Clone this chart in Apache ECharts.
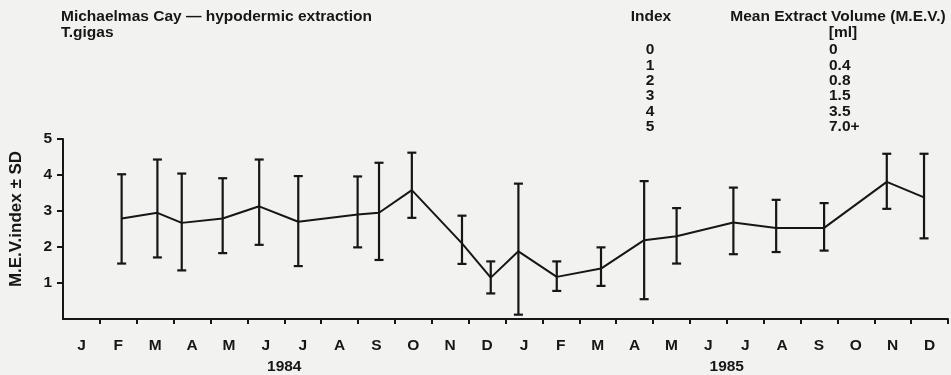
<!DOCTYPE html>
<html>
<head>
<meta charset="utf-8">
<script src="https://cdn.jsdelivr.net/npm/echarts@6/dist/echarts.min.js"></script>
<style>
html,body{margin:0;padding:0;background:#f2f2f1;}
#chart{width:951px;height:375px;}
</style>
</head>
<body>
<div id="chart"></div>
<script>
// ---- data ----
const monthLetters = ['J','F','M','A','M','J','J','A','S','O','N','D'];
const years = ['1984','1985'];
// sampling time in months since 1 Jan 1984
const sampleMonth = [1.59, 2.56, 3.22, 4.33, 5.32, 6.38, 7.99, 8.57, 9.46, 10.82, 11.60,
                     12.35, 13.39, 14.59, 15.76, 16.64, 18.18, 19.34, 20.64, 22.34, 23.35];
const mevIndex   = [2.79, 2.95, 2.67, 2.79, 3.13, 2.70, 2.90, 2.95, 3.58, 2.10, 1.15,
                     1.88, 1.17, 1.40, 2.19, 2.30, 2.68, 2.53, 2.53, 3.81, 3.38];
const sdLow      = [1.54, 1.71, 1.35, 1.83, 2.06, 1.47, 1.99, 1.64, 2.81, 1.53, 0.71,
                     0.12, 0.78, 0.92, 0.55, 1.54, 1.80, 1.86, 1.90, 3.06, 2.24];
const sdHigh     = [4.02, 4.43, 4.04, 3.91, 4.43, 3.97, 3.96, 4.34, 4.62, 2.87, 1.60,
                     3.76, 1.60, 1.99, 3.83, 3.08, 3.65, 3.31, 3.22, 4.59, 4.59];
const yTickValues = [1, 2, 3, 4, 5];
const legendIndex = ['0','1','2','3','4','5'];
const legendMEV   = ['0','0.4','0.8','1.5','3.5','7.0+'];
const titleLines  = ['Michaelmas Cay \u2014 hypodermic extraction', 'T.gigas'];

// ---- build ----
const INK = '#161616';
const FONT = '"Liberation Sans", Arial, Helvetica, sans-serif';
const nMonths = monthLetters.length * years.length;
const labelVals = [], tickVals = [];
for (let i = 0; i < nMonths; i++) { labelVals.push(i + 0.5); tickVals.push(i + 1); }

const txt = (text, x, y, align, extra) => Object.assign({
  type: 'text', x: x, y: y,
  style: { text: text, fill: INK, font: 'bold 15.5px ' + FONT, textAlign: align || 'left', textVerticalAlign: 'middle' }
}, extra || {});

const graphics = [];
graphics.push(txt(titleLines[0], 61, 17));
graphics.push(txt(titleLines[1], 61, 33));
graphics.push(txt('Index', 651, 17, 'center'));
graphics.push(txt('Mean Extract Volume (M.E.V.)', 838, 17, 'center'));
graphics.push(txt('[ml]', 843, 33, 'center'));
legendIndex.forEach((v, i) => {
  graphics.push(txt(v, 650, 50 + i * 15.4, 'center'));
  graphics.push(txt(legendMEV[i], 829, 50 + i * 15.4, 'left'));
});

const chart = echarts.init(document.getElementById('chart'), null, { renderer: 'canvas' });
chart.setOption({
  backgroundColor: '#f2f2f1',
  animation: false,
  grid: { left: 62, right: 3, top: 139, bottom: 53 },
  xAxis: [{
    type: 'value', min: 0, max: nMonths, interval: 1,
    axisLine: { show: true, lineStyle: { color: INK, width: 2 } },
    axisTick: { show: true, customValues: tickVals, length: 5, lineStyle: { color: INK, width: 2 } },
    axisLabel: {
      customValues: labelVals, margin: 19,
      formatter: v => monthLetters[Math.floor(v) % 12],
      color: INK, fontFamily: FONT, fontWeight: 'bold', fontSize: 15.5
    },
    splitLine: { show: false }
  }, {
    type: 'category', data: years, position: 'bottom', offset: 0,
    axisLine: { show: false }, axisTick: { show: false },
    axisLabel: { margin: 40, color: INK, fontFamily: FONT, fontWeight: 'bold', fontSize: 15.5 },
    splitLine: { show: false }
  }],
  yAxis: {
    type: 'value', min: 0, max: 5, interval: 1,
    name: 'M.E.V.index \u00b1 SD', nameLocation: 'middle', nameRotate: 90, nameGap: 38,
    nameTextStyle: { color: INK, fontFamily: FONT, fontWeight: 'bold', fontSize: 17, padding: [0, 0, 0, 20] },
    axisLine: { show: true, lineStyle: { color: INK, width: 2 } },
    axisTick: { show: true, customValues: yTickValues, length: 6, lineStyle: { color: INK, width: 2 } },
    axisLabel: { customValues: yTickValues, margin: 11, color: INK, fontFamily: FONT, fontWeight: 'bold', fontSize: 15.5 },
    splitLine: { show: false }
  },
  graphic: graphics,
  series: [{
    type: 'custom',
    xAxisIndex: 0,
    data: sampleMonth.map((m, i) => [m, sdLow[i], sdHigh[i]]),
    encode: { x: 0, y: [1, 2] },
    renderItem: (params, api) => {
      const x = api.value(0);
      const lo = api.coord([x, api.value(1)]);
      const hi = api.coord([x, api.value(2)]);
      const w = 4.5;
      const st = { stroke: INK, lineWidth: 2.2 };
      return { type: 'group', children: [
        { type: 'line', shape: { x1: lo[0], y1: lo[1], x2: hi[0], y2: hi[1] }, style: st },
        { type: 'line', shape: { x1: lo[0] - w, y1: lo[1], x2: lo[0] + w, y2: lo[1] }, style: st },
        { type: 'line', shape: { x1: hi[0] - w, y1: hi[1], x2: hi[0] + w, y2: hi[1] }, style: st }
      ]};
    },
    z: 3
  }, {
    type: 'line',
    xAxisIndex: 0,
    data: sampleMonth.map((m, i) => [m, mevIndex[i]]),
    symbol: 'none',
    lineStyle: { color: INK, width: 2 },
    z: 4
  }]
});
</script>
</body>
</html>
